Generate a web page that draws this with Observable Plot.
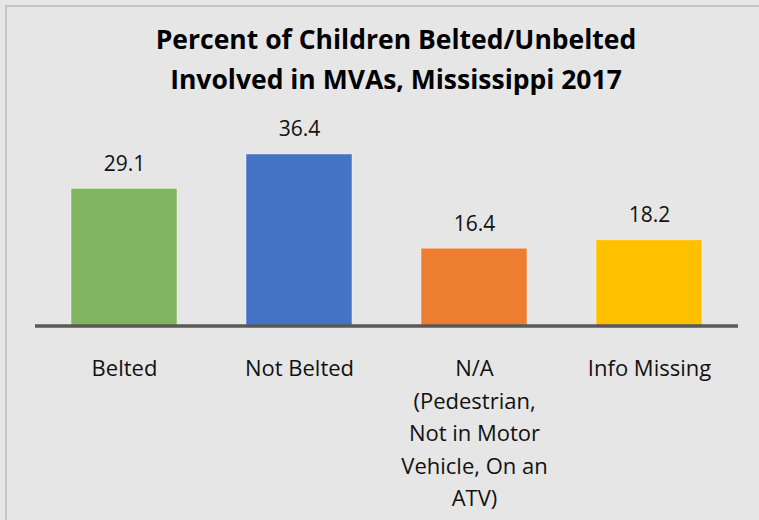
<!DOCTYPE html>
<html>
<head>
<meta charset="utf-8">
<script src="https://cdn.jsdelivr.net/npm/d3@7"></script>
<script src="https://cdn.jsdelivr.net/npm/@observablehq/plot@0.6"></script>
<style>
  html, body { margin: 0; padding: 0; background: #E7E6E6; overflow: hidden; }
  #wrap { position: relative; width: 759px; height: 520px; overflow: hidden; background: #E7E6E6; font-family: "Open Sans", sans-serif; }
  #frame { position: absolute; left: 5px; top: 5px; width: 800px; height: 600px; border: 2px solid #C4C4C4; box-sizing: border-box; }
  #title { position: absolute; left: 0; top: 19px; width: 792px; text-align: center; font-weight: 700; font-size: 26.5px; line-height: 40px; color: #000; }
  #chart { position: absolute; left: 0; top: 100px; }
</style>
</head>
<body>
<div id="wrap">
  <div id="frame"></div>
  <div id="title">Percent of Children Belted/Unbelted<br>Involved in MVAs, Mississippi 2017</div>
  <div id="chart"></div>
</div>
<script>
const categories = ["Belted", "Not Belted", "N/A", "Info Missing"];
const categoryLabels = ["Belted", "Not Belted", "N/A\n(Pedestrian,\nNot in Motor\nVehicle, On an\nATV)", "Info Missing"];
const percents = [29.1, 36.4, 16.4, 18.2];
const barColors = ["#81B55F", "#4472C4", "#ED7D31", "#FFC000"];

const data = categories.map((c, i) => ({category: c, label: categoryLabels[i], value: percents[i], color: barColors[i]}));
const labelOf = new Map(data.map(d => [d.category, d.label]));

const chart = Plot.plot({
  width: 759,
  height: 420,
  marginLeft: 35,
  marginRight: 21,
  marginTop: 37,
  marginBottom: 194.5,
  style: {background: "transparent", fontFamily: "Open Sans, sans-serif"},
  x: {domain: categories, paddingInner: 0.396, paddingOuter: 0.198, align: 0.5, axis: null},
  y: {domain: [0, 40], axis: null},
  marks: [
    Plot.barY(data, {x: "category", y: "value", fill: "color", stroke: "white", strokeOpacity: 0.45, strokeWidth: 1}),
    Plot.text(data, {x: "category", y: "value", text: d => d.value.toFixed(1), dy: -18, lineAnchor: "bottom", fontSize: 21, fill: "#111"}),
    Plot.ruleY([0], {stroke: "#595959", strokeWidth: 3.5}),
    Plot.axisX({anchor: "bottom", label: null, tickSize: 0, tickPadding: 27, tickFormat: c => labelOf.get(c), fontSize: 22, lineHeight: 1.48, fill: "#111", textOverflow: null})
  ]
});
document.getElementById("chart").appendChild(chart);
</script>
</body>
</html>
